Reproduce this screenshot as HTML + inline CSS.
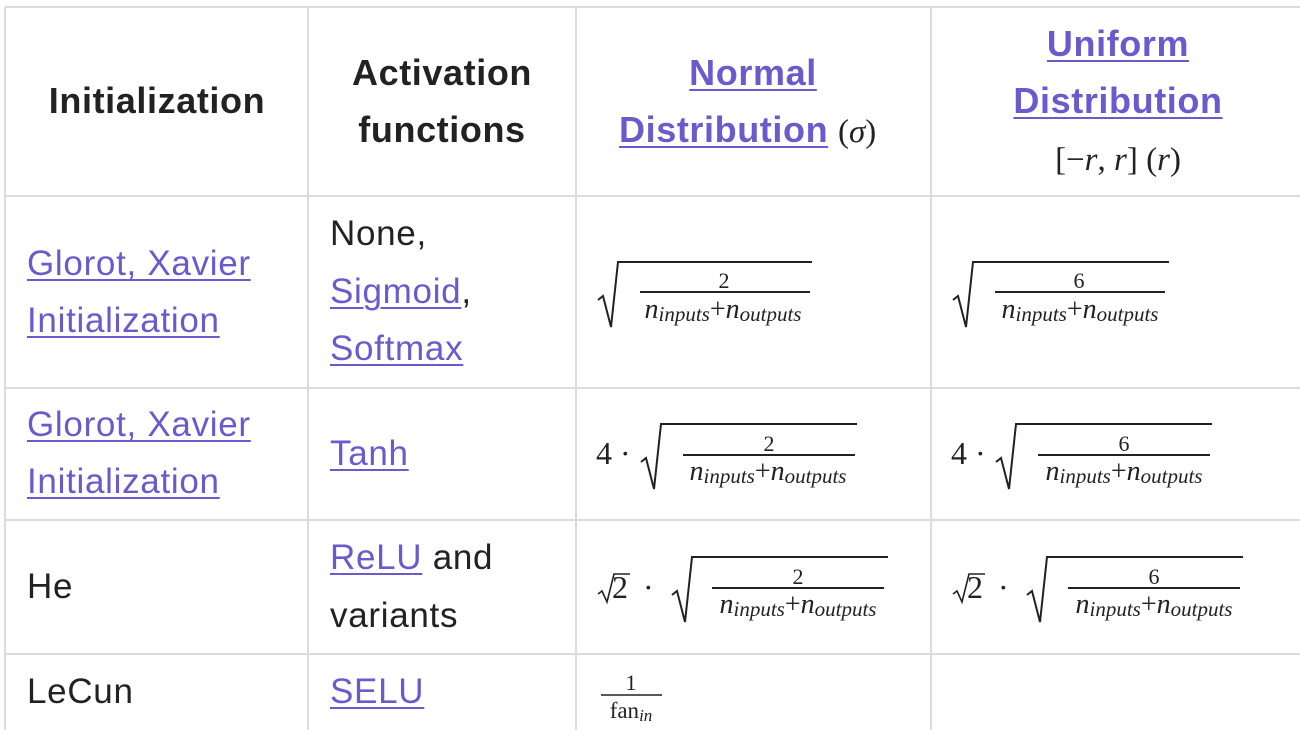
<!DOCTYPE html>
<html><head><meta charset="utf-8"><style>
body{margin:0;background:#fff;width:1300px;height:730px;overflow:hidden;position:relative;font-family:"Liberation Sans",sans-serif;color:#222}
.t{position:absolute;height:40px;line-height:40px;font-size:35px;letter-spacing:0.7px;white-space:nowrap}
.c{text-align:center;width:400px}
.b{font-weight:bold;font-size:36px;letter-spacing:0.6px}
a{color:#6a5acd;text-decoration:underline;text-decoration-thickness:2px;text-underline-offset:4px}
svg{position:absolute;left:0;top:0}
</style></head><body>
<svg width="1300" height="730" xmlns="http://www.w3.org/2000/svg">
<g stroke="#dcdcdc" stroke-width="2" fill="none">
<line x1="5" y1="7" x2="1300" y2="7"/><line x1="5" y1="196" x2="1300" y2="196"/>
<line x1="5" y1="388" x2="1300" y2="388"/><line x1="5" y1="520" x2="1300" y2="520"/>
<line x1="5" y1="654" x2="1300" y2="654"/>
<line x1="5" y1="7" x2="5" y2="730"/><line x1="308" y1="7" x2="308" y2="730"/>
<line x1="576" y1="7" x2="576" y2="730"/><line x1="931" y1="7" x2="931" y2="730"/>
</g>
<g font-family="Liberation Serif,serif" fill="#222">
<text x="838" y="142" font-size="33">(<tspan font-style="italic">σ</tspan>)</text>
<text x="1118" y="170" font-size="33" text-anchor="middle">[−<tspan font-style="italic">r</tspan>, <tspan font-style="italic">r</tspan>] (<tspan font-style="italic">r</tspan>)</text>
</g>
<g stroke="#222" stroke-width="2" fill="none">
<path d="M598,300 L603,296 L611,327 L618,262 L812,262"/><line x1="640" y1="292" x2="810" y2="292"/>
<path d="M953,300 L958,296 L966,327 L973,262 L1169,262"/><line x1="995" y1="292" x2="1165" y2="292"/>
<path d="M641,462 L646,458 L654,489 L661,424 L857,424"/><line x1="683" y1="455" x2="855" y2="455"/>
<path d="M996,462 L1001,458 L1009,489 L1016,424 L1212,424"/><line x1="1038" y1="455" x2="1210" y2="455"/>
<path d="M672,595 L677,591 L685,622 L692,557 L888,557"/><line x1="712" y1="588" x2="884" y2="588"/>
<path d="M1027,595 L1032,591 L1040,622 L1047,557 L1243,557"/><line x1="1068" y1="588" x2="1240" y2="588"/>
<path d="M598,594 L602,591 L607,602 L614,574 L630,574" stroke-width="1.6"/>
<path d="M953,594 L957,591 L962,602 L969,574 L985,574" stroke-width="1.6"/>
<line x1="601" y1="695" x2="662" y2="695" stroke-width="1.5"/>
</g>
<g font-family="Liberation Serif,serif" fill="#222" text-anchor="middle">
<text x="724" y="288" font-size="22">2</text><text x="1079" y="288" font-size="22">6</text>
<text x="769" y="451" font-size="22">2</text><text x="1124" y="451" font-size="22">6</text>
<text x="798" y="584" font-size="22">2</text><text x="1154" y="584" font-size="22">6</text>
<text x="631" y="690" font-size="22">1</text>
<text x="631" y="718" font-size="23">fan<tspan font-style="italic" font-size="17" dy="3">in</tspan></text>
<g font-size="28" font-style="italic">
<text x="723" y="318">n<tspan font-size="21" dy="3">inputs</tspan><tspan dy="-3" font-style="normal">+</tspan>n<tspan font-size="21" dy="3">outputs</tspan></text>
<text x="1080" y="318">n<tspan font-size="21" dy="3">inputs</tspan><tspan dy="-3" font-style="normal">+</tspan>n<tspan font-size="21" dy="3">outputs</tspan></text>
<text x="768" y="480">n<tspan font-size="21" dy="3">inputs</tspan><tspan dy="-3" font-style="normal">+</tspan>n<tspan font-size="21" dy="3">outputs</tspan></text>
<text x="1124" y="480">n<tspan font-size="21" dy="3">inputs</tspan><tspan dy="-3" font-style="normal">+</tspan>n<tspan font-size="21" dy="3">outputs</tspan></text>
<text x="798" y="613">n<tspan font-size="21" dy="3">inputs</tspan><tspan dy="-3" font-style="normal">+</tspan>n<tspan font-size="21" dy="3">outputs</tspan></text>
<text x="1154" y="613">n<tspan font-size="21" dy="3">inputs</tspan><tspan dy="-3" font-style="normal">+</tspan>n<tspan font-size="21" dy="3">outputs</tspan></text>
</g>
</g>
<g font-family="Liberation Serif,serif" fill="#222" font-size="32">
<text x="596" y="464">4 ·</text><text x="951" y="464">4 ·</text>
<text x="612" y="598">2</text><text x="643" y="598">·</text>
<text x="967" y="598">2</text><text x="998" y="598">·</text>
</g>
</svg>
<div class="t b c" style="left:-43px;top:81px">Initialization</div>
<div class="t b c" style="left:242px;top:53px">Activation</div>
<div class="t b c" style="left:242px;top:110px">functions</div>
<div class="t b c" style="left:553px;top:53px"><a>Normal</a></div>
<div class="t b" style="left:619px;top:110px"><a>Distribution</a></div>
<div class="t b c" style="left:918px;top:24px"><a>Uniform</a></div>
<div class="t b c" style="left:918px;top:81px"><a>Distribution</a></div>
<div class="t" style="left:27px;top:244px"><a>Glorot, Xavier</a></div>
<div class="t" style="left:27px;top:301px"><a>Initialization</a></div>
<div class="t" style="left:330px;top:214px">None,</div>
<div class="t" style="left:330px;top:272px"><a>Sigmoid</a>,</div>
<div class="t" style="left:330px;top:329px"><a>Softmax</a></div>
<div class="t" style="left:27px;top:405px"><a>Glorot, Xavier</a></div>
<div class="t" style="left:27px;top:462px"><a>Initialization</a></div>
<div class="t" style="left:330px;top:434px"><a>Tanh</a></div>
<div class="t" style="left:27px;top:567px">He</div>
<div class="t" style="left:330px;top:538px"><a>ReLU</a> and</div>
<div class="t" style="left:330px;top:596px">variants</div>
<div class="t" style="left:27px;top:672px">LeCun</div>
<div class="t" style="left:330px;top:672px"><a>SELU</a></div>
</body></html>
